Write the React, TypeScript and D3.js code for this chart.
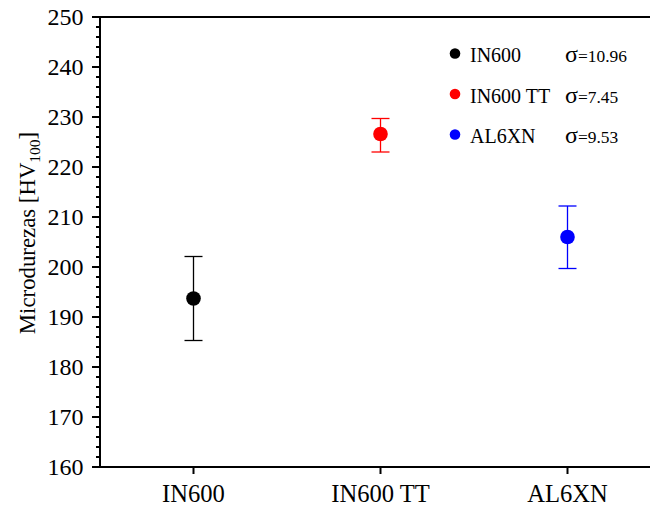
import React from "react";
import * as d3 from "d3";

const categories = ["IN600", "IN600 TT", "AL6XN"];
const means = [193.7, 226.6, 206.0];
const upper = [202.1, 229.7, 212.2];
const lower = [185.3, 223.0, 199.7];
const colors = ["#000000", "#ff0000", "#0000ff"];
const sigmas = ["10.96", "7.45", "9.53"];
const yTicks = [160, 170, 180, 190, 200, 210, 220, 230, 240, 250];

const W = 650;
const H = 508;
const left = 100;
const top = 17;
const bottom = 467;
const right = 661;

export default function App() {
  const x = d3.scaleLinear().domain([0.5, 3.5]).range([left, right]);
  const y = d3.scaleLinear().domain([160, 250]).range([bottom, top]);
  const minor = d3.range(160, 250.01, 2).filter((v) => v % 10 !== 0);
  const font = "'Liberation Serif', 'Times New Roman', serif";

  return (
    <svg
      width={W}
      height={H}
      style={{ position: "absolute", left: 0, top: 0, background: "#fff" }}
      fontFamily={font}
    >
      <rect width={W} height={H} fill="#fff" />
      {/* frame */}
      <line x1={left} x2={W} y1={top} y2={top} stroke="#000" strokeWidth={2} />
      <line x1={left} x2={W} y1={bottom} y2={bottom} stroke="#000" strokeWidth={2} />
      <line x1={left} x2={left} y1={top - 1} y2={bottom + 1} stroke="#000" strokeWidth={2} />
      {/* y ticks */}
      {yTicks.map((t) => (
        <g key={t}>
          <line x1={left - 8} x2={left} y1={y(t)} y2={y(t)} stroke="#000" strokeWidth={2} />
          <text x={83.5} y={y(t)} dy="0.35em" textAnchor="end" fontSize={24}>
            {t}
          </text>
        </g>
      ))}
      {minor.map((t) => (
        <line key={t} x1={left - 4} x2={left} y1={y(t)} y2={y(t)} stroke="#000" strokeWidth={2} />
      ))}
      {/* x ticks */}
      {categories.map((c, i) => (
        <g key={c}>
          <line x1={x(i + 1)} x2={x(i + 1)} y1={bottom} y2={bottom + 7} stroke="#000" strokeWidth={2} />
          <text x={x(i + 1)} y={502} textAnchor="middle" fontSize={24.6}>
            {c}
          </text>
        </g>
      ))}
      {/* y title */}
      <text
        transform={`translate(35, ${233}) rotate(-90)`}
        textAnchor="middle"
        fontSize={22.8}
      >
        Microdurezas [HV
        <tspan fontSize={15.5} dy={5}>100</tspan>
        <tspan dy={-5}>]</tspan>
      </text>
      {/* error bars and points */}
      {categories.map((c, i) => {
        const cx = x(i + 1);
        return (
          <g key={c} stroke={colors[i]} strokeWidth={1.3}>
            <line x1={cx} x2={cx} y1={y(upper[i])} y2={y(lower[i])} />
            <line x1={cx - 9} x2={cx + 9} y1={y(upper[i])} y2={y(upper[i])} />
            <line x1={cx - 9} x2={cx + 9} y1={y(lower[i])} y2={y(lower[i])} />
            <circle cx={cx} cy={y(means[i])} r={7.3} fill={colors[i]} stroke="none" />
          </g>
        );
      })}
      {/* legend */}
      {categories.map((c, i) => {
        const base = 62 + i * 40.5;
        return (
          <g key={c}>
            <circle cx={455} cy={base - 8.5} r={5.3} fill={colors[i]} />
            <text x={470} y={base} fontSize={20}>
              {c}
            </text>
            <text x={565} y={base} fontSize={17.4}>
              <tspan fontSize={24}>σ</tspan>={sigmas[i]}
            </text>
          </g>
        );
      })}
    </svg>
  );
}
